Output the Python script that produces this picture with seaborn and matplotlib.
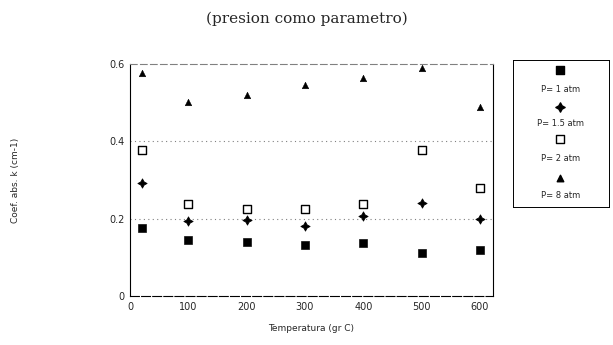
import matplotlib
matplotlib.use('Agg')
import matplotlib.pyplot as plt
import pandas as pd
import seaborn as sns

temperatura = [20, 100, 200, 300, 400, 500, 600]
k_p1 = [0.177, 0.145, 0.140, 0.131, 0.136, 0.112, 0.119]
k_p15 = [0.292, 0.194, 0.198, 0.182, 0.206, 0.241, 0.200]
k_p2 = [0.379, 0.237, 0.224, 0.226, 0.239, 0.379, 0.280]
k_p8 = [0.578, 0.503, 0.519, 0.546, 0.564, 0.590, 0.489]
series_labels = ['P= 1 atm', 'P= 1.5 atm', 'P= 2 atm', 'P= 8 atm']
x_ticks = [0, 100, 200, 300, 400, 500, 600]
y_ticks = [0, 0.2, 0.4, 0.6]

df = pd.DataFrame({
    'temp': temperatura * 4,
    'k': k_p1 + k_p15 + k_p2 + k_p8,
    'serie': [lab for lab in series_labels for _ in temperatura],
})

sns.set_style('white')
plt.rcParams['font.family'] = ['DejaVu Sans']

star4 = (4, 1, 0)
markers = {'P= 1 atm': 's', 'P= 1.5 atm': star4, 'P= 2 atm': 's', 'P= 8 atm': '^'}
styles = {
    'P= 1 atm': dict(s=30, color='black', edgecolor='black'),
    'P= 1.5 atm': dict(s=45, color='black', edgecolor='black'),
    'P= 2 atm': dict(s=26, color='white', edgecolor='black', linewidth=1.0),
    'P= 8 atm': dict(s=22, color='black', edgecolor='black'),
}

fig = plt.figure(figsize=(6.13, 3.45), dpi=100)
ax = fig.add_axes([0.212, 0.142, 0.592, 0.672])

for lab in series_labels:
    sub = df[df['serie'] == lab]
    sns.scatterplot(data=sub, x='temp', y='k', marker=markers[lab], ax=ax,
                    legend=False, **styles[lab])

ax.set_xlim(0, 622)
ax.set_ylim(0, 0.6)
ax.set_xticks(x_ticks)
ax.set_yticks(y_ticks)
ax.set_xticklabels([str(t) for t in x_ticks], fontsize=7)
ax.set_yticklabels(['0', '0.2', '0.4', '0.6'], fontsize=7)
ax.tick_params(axis='both', direction='in', length=4, width=0.7, pad=4)
for y in [0.2, 0.4]:
    ax.axhline(y, color='grey', linestyle=(0, (1, 3)), linewidth=0.8, zorder=0)
for side in ['left', 'right', 'bottom']:
    ax.spines[side].set_color('black')
    ax.spines[side].set_linewidth(0.8)
ax.spines['top'].set_color('grey')
ax.spines['top'].set_linewidth(0.8)
ax.spines['top'].set_linestyle((0, (6, 3)))
ax.spines['bottom'].set_linestyle((0, (8, 2)))

ax.set_xlabel('Temperatura (gr C)', fontsize=6.5, labelpad=9)
ax.set_ylabel('Coef. abs. k (cm-1)', fontsize=6.5, labelpad=64)
fig.text(0.5, 0.945, '(presion como parametro)', ha='center', va='center',
         fontsize=11, family='serif')

# legend box with marker above each label
lax = fig.add_axes([0.837, 0.40, 0.157, 0.426])
lax.set_xlim(0, 1)
lax.set_ylim(0, 1)
lax.set_xticks([])
lax.set_yticks([])
for sp in lax.spines.values():
    sp.set_color('black')
    sp.set_linewidth(0.7)
marker_y = [0.93, 0.68, 0.46, 0.20]
text_y = [0.80, 0.57, 0.33, 0.08]
for lab, ym, yt in zip(series_labels, marker_y, text_y):
    lax.scatter([0.49], [ym], marker=markers[lab], **styles[lab])
    lax.text(0.49, yt, lab, ha='center', va='center', fontsize=6)

fig.savefig('out.png', dpi=100)
